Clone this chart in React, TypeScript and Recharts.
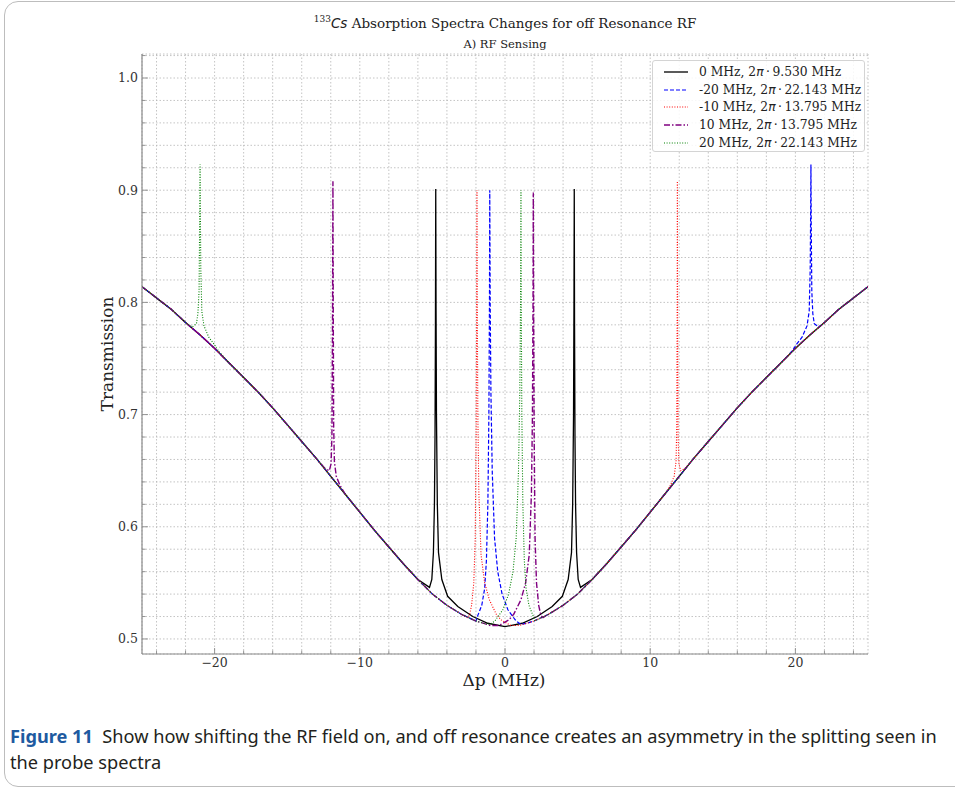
import { LineChart, Line, XAxis, YAxis, CartesianGrid } from "recharts";

// axis ticks (minor every 2 MHz / 0.02, labels only on majors)
const X_TICKS = [-24, -22, -20, -18, -16, -14, -12, -10, -8, -6, -4, -2, 0, 2, 4, 6, 8, 10, 12, 14, 16, 18, 20, 22, 24];
const X_MAJOR = [-20, -10, 0, 10, 20];
const Y_TICKS = [0.5, 0.52, 0.54, 0.56, 0.58, 0.6, 0.62, 0.64, 0.66, 0.68, 0.7, 0.72, 0.74, 0.76, 0.78, 0.8, 0.82, 0.84, 0.86, 0.88, 0.9, 0.92, 0.94, 0.96, 0.98, 1.0, 1.02];
const Y_MAJOR = [0.5, 0.6, 0.7, 0.8, 0.9, 1.0];

// broad Doppler absorption background shared by all curves
const BASE_DELTA = [-25, -24, -23, -22, -21, -20, -19, -18, -17, -16, -15, -14, -13, -12, -11, -10, -9, -8, -7, -6, -5, -4, -3, -2, -1, 0, 1, 2, 3, 4, 5, 6, 7, 8, 9, 10, 11, 12, 13, 14, 15, 16, 17, 18, 19, 20, 21, 22, 23, 24, 25];
const BASE_T = [0.814, 0.804, 0.794, 0.782, 0.771, 0.759, 0.746, 0.733, 0.72, 0.706, 0.691, 0.676, 0.661, 0.645, 0.629, 0.613, 0.597, 0.582, 0.567, 0.553, 0.54, 0.53, 0.522, 0.516, 0.512, 0.511, 0.512, 0.516, 0.522, 0.53, 0.54, 0.553, 0.567, 0.582, 0.597, 0.613, 0.629, 0.645, 0.661, 0.676, 0.691, 0.706, 0.72, 0.733, 0.746, 0.759, 0.771, 0.782, 0.794, 0.804, 0.814];

// transparency windows, [delta, transmission]
const BLACK_PEAKS = [
  [[-5.2, 0.546], [-5.04, 0.553], [-4.93, 0.577], [-4.86, 0.62], [-4.82, 0.68], [-4.79, 0.78], [-4.77, 0.901], [-4.75, 0.8], [-4.72, 0.7], [-4.66, 0.62], [-4.58, 0.577], [-4.35, 0.553], [-3.95, 0.538], [-3.25, 0.529], [-2.22, 0.52], [-1.19, 0.514], [0, 0.511],
   [1.19, 0.514], [2.22, 0.52], [3.25, 0.529], [3.95, 0.538], [4.35, 0.553], [4.58, 0.577], [4.66, 0.62], [4.72, 0.7], [4.75, 0.8], [4.77, 0.901], [4.79, 0.78], [4.82, 0.68], [4.86, 0.62], [4.93, 0.577], [5.04, 0.553], [5.2, 0.546]],
];
const BLUE_PEAKS = [
  [[-2.0, 0.516], [-1.9, 0.52], [-1.6, 0.53], [-1.4, 0.545], [-1.28, 0.57], [-1.18, 0.62], [-1.11, 0.7], [-1.07, 0.8], [-1.05, 0.9], [-1.02, 0.8], [-0.97, 0.72], [-0.88, 0.65], [-0.72, 0.59], [-0.5, 0.56], [-0.2, 0.54], [0.2, 0.526], [0.76, 0.516], [1.1, 0.513], [1.5, 0.514]],
  [[19.8, 0.757], [20.1, 0.763], [20.46, 0.769], [20.8, 0.779], [20.95, 0.792], [21.02, 0.83], [21.05, 0.88], [21.07, 0.923], [21.09, 0.87], [21.13, 0.81], [21.2, 0.79], [21.3, 0.781], [21.6, 0.778]],
];
const RED_PEAKS = [
  [[-2.6, 0.519], [-2.45, 0.521], [-2.3, 0.53], [-2.15, 0.55], [-2.05, 0.59], [-1.99, 0.68], [-1.95, 0.8], [-1.93, 0.9], [-1.91, 0.8], [-1.87, 0.7], [-1.8, 0.63], [-1.65, 0.575], [-1.4, 0.55], [-1.08, 0.535], [-0.6, 0.522], [-0.27, 0.517], [0.4, 0.512], [1.0, 0.512]],
  [[11.0, 0.629], [11.4, 0.637], [11.65, 0.645], [11.78, 0.658], [11.83, 0.69], [11.86, 0.8], [11.87, 0.908], [11.89, 0.78], [11.92, 0.68], [11.98, 0.656], [12.1, 0.65], [12.4, 0.652]],
];
const PURPLE_PEAKS = [
  [[-12.4, 0.652], [-12.1, 0.65], [-11.98, 0.656], [-11.92, 0.68], [-11.88, 0.78], [-11.85, 0.908], [-11.83, 0.8], [-11.8, 0.69], [-11.75, 0.658], [-11.62, 0.645], [-11.37, 0.637], [-11.0, 0.629]],
  [[-1.0, 0.512], [-0.4, 0.512], [0.27, 0.517], [0.6, 0.522], [1.1, 0.535], [1.42, 0.55], [1.67, 0.575], [1.82, 0.63], [1.89, 0.7], [1.93, 0.8], [1.95, 0.898], [1.97, 0.8], [2.01, 0.68], [2.07, 0.59], [2.17, 0.55], [2.32, 0.53], [2.47, 0.521], [2.62, 0.519]],
];
const GREEN_PEAKS = [
  [[-21.55, 0.778], [-21.25, 0.781], [-21.15, 0.79], [-21.07, 0.81], [-21.03, 0.87], [-21.0, 0.923], [-20.98, 0.88], [-20.95, 0.83], [-20.88, 0.792], [-20.73, 0.779], [-20.4, 0.769], [-20.05, 0.763], [-19.75, 0.757]],
  [[-1.5, 0.514], [-1.05, 0.513], [-0.7, 0.516], [-0.15, 0.526], [0.25, 0.54], [0.55, 0.56], [0.77, 0.59], [0.93, 0.65], [1.02, 0.72], [1.07, 0.8], [1.1, 0.9], [1.12, 0.8], [1.16, 0.7], [1.23, 0.62], [1.33, 0.57], [1.45, 0.545], [1.65, 0.53], [1.95, 0.52], [2.05, 0.516]],
];

const SERIES_DETUNING = ["0 MHz, ", "-20 MHz, ", "-10 MHz, ", "10 MHz, ", "20 MHz, "];
const SERIES_RABI = ["9.530", "22.143", "13.795", "13.795", "22.143"];
const SERIES_COLORS = ["#000000", "#0000ff", "#ff0000", "#800080", "#008000"];
const SERIES_DASH = ["", "4 2", "1 1.6", "6 2 1.5 2", "1 1.6"];
const SERIES_WIDTH = [1.3, 1.2, 1.1, 1.4, 1.1];

const SERIF = "'DejaVu Serif', serif";
const FRAME = "#8a8a8a";
const TXT = "#333";

function buildSeries(segments: number[][][]) {
  const pts = BASE_DELTA.map((d, i) => ({ d, t: BASE_T[i] })).filter(
    (p) => !segments.some((s) => p.d >= s[0][0] && p.d <= s[s.length - 1][0])
  );
  segments.forEach((s) => s.forEach(([d, t]) => pts.push({ d, t })));
  return pts.sort((a, b) => a.d - b.d);
}

const seriesData = [BLACK_PEAKS, BLUE_PEAKS, RED_PEAKS, PURPLE_PEAKS, GREEN_PEAKS].map(buildSeries);

const isMajorY = (v: number) => Y_MAJOR.some((m) => Math.abs(m - v) < 1e-9);
const fmtX = (v: number) => (v < 0 ? "\u2212" + Math.abs(v) : String(v));

const BottomTick = ({ x, y, payload }: any) => {
  const major = X_MAJOR.includes(payload.value);
  return (
    <g>
      <line x1={x} x2={x} y1={y} y2={y - (major ? 6 : 3.5)} stroke={FRAME} strokeWidth={0.9} />
      {major && (
        <text x={x} y={y + 13} textAnchor="middle" fontSize={12.5} fill={TXT} fontFamily={SERIF}>
          {fmtX(payload.value)}
        </text>
      )}
    </g>
  );
};

const TopTick = ({ x, y, payload }: any) => {
  const major = X_MAJOR.includes(payload.value);
  return <line x1={x} x2={x} y1={y} y2={y + (major ? 6 : 3.5)} stroke={FRAME} strokeWidth={0.9} />;
};

const LeftTick = ({ x, y, payload }: any) => {
  const major = isMajorY(payload.value);
  return (
    <g>
      <line x1={x} x2={x + (major ? 6 : 3.5)} y1={y} y2={y} stroke={FRAME} strokeWidth={0.9} />
      {major && (
        <text x={x - 4} y={y} dy="0.35em" textAnchor="end" fontSize={12.5} fill={TXT} fontFamily={SERIF}>
          {payload.value.toFixed(1)}
        </text>
      )}
    </g>
  );
};

const RightTick = ({ x, y, payload }: any) => {
  const major = isMajorY(payload.value);
  return <line x1={x} x2={x - (major ? 6 : 3.5)} y1={y} y2={y} stroke={FRAME} strokeWidth={0.9} />;
};

export default function App() {
  return (
    <div style={{ position: "absolute", left: 0, top: 0, width: 955, height: 789, overflow: "hidden", background: "#fff" }}>
      <div style={{ position: "absolute", left: 4, top: 1, width: 1000, height: 784, border: "1px solid #bdbdbd", borderRadius: 14 }} />

      <div style={{ position: "absolute", left: 0, top: 0 }}>
        <LineChart width={955} height={700} margin={{ top: 54, right: 87, bottom: 16, left: 92 }}>
          <CartesianGrid xAxisId="b" yAxisId="l" stroke="#b5b5b5" strokeDasharray="1.5 2" strokeWidth={0.8} />
          <XAxis xAxisId="b" dataKey="d" type="number" domain={[-25, 25]} allowDataOverflow ticks={X_TICKS} interval={0}
            tickSize={0} tickMargin={0} tickLine={false} axisLine={{ stroke: FRAME, strokeWidth: 1.2 }} tick={<BottomTick />} height={30} />
          <XAxis xAxisId="t" orientation="top" type="number" domain={[-25, 25]} allowDataOverflow ticks={X_TICKS} interval={0}
            tickSize={0} tickMargin={0} tickLine={false} axisLine={{ stroke: FRAME, strokeWidth: 1.2 }} tick={<TopTick />} height={0} />
          <YAxis yAxisId="l" type="number" domain={[0.4866, 1.0214]} allowDataOverflow ticks={Y_TICKS} interval={0}
            tickSize={0} tickMargin={0} tickLine={false} axisLine={{ stroke: FRAME, strokeWidth: 1.2 }} tick={<LeftTick />} width={50} />
          <YAxis yAxisId="r" orientation="right" type="number" domain={[0.4866, 1.0214]} allowDataOverflow ticks={Y_TICKS} interval={0}
            tickSize={0} tickMargin={0} tickLine={false} axisLine={{ stroke: FRAME, strokeWidth: 1.2 }} tick={<RightTick />} width={0} />
          {seriesData.map((data, i) => (
            <Line key={i} xAxisId="b" yAxisId="l" data={data} dataKey="t" type="linear"
              stroke={SERIES_COLORS[i]} strokeWidth={SERIES_WIDTH[i]} strokeDasharray={SERIES_DASH[i] || undefined}
              dot={false} activeDot={false} isAnimationActive={false} />
          ))}
        </LineChart>
      </div>

      {/* titles */}
      <div style={{ position: "absolute", left: 255, width: 500, top: 14, textAlign: "center", fontFamily: SERIF, fontSize: 13.5, color: "#222", whiteSpace: "nowrap" }}>
        <sup style={{ fontSize: 9 }}>133</sup>
        <span style={{ fontFamily: "'DejaVu Sans', sans-serif", fontStyle: "italic" }}>Cs</span> Absorption Spectra Changes for off Resonance RF
      </div>
      <div style={{ position: "absolute", left: 355, width: 300, top: 37, textAlign: "center", fontFamily: SERIF, fontSize: 11.5, color: "#222" }}>
        A) RF Sensing
      </div>

      {/* axis labels */}
      <div style={{ position: "absolute", left: 404, width: 200, top: 670, textAlign: "center", fontFamily: SERIF, fontSize: 17, color: "#222" }}>
        Δp (MHz)
      </div>
      <div style={{ position: "absolute", left: 107, top: 354, transform: "translate(-50%, -50%) rotate(-90deg)", fontFamily: SERIF, fontSize: 17, color: "#222", whiteSpace: "nowrap" }}>
        Transmission
      </div>

      {/* legend */}
      <div style={{ position: "absolute", left: 652, top: 60, width: 213, height: 92, border: "1px solid #d4d4d4", borderRadius: 3, background: "rgba(255,255,255,0.85)", boxSizing: "border-box", paddingTop: 2 }}>
        {SERIES_DETUNING.map((lab, i) => (
          <div key={i} style={{ height: 17.7, display: "flex", alignItems: "center", fontFamily: SERIF, fontSize: 12.3, color: "#222", whiteSpace: "nowrap" }}>
            <svg width={46} height={10} style={{ flex: "none" }}>
              <line x1={11} x2={35} y1={5} y2={5} stroke={SERIES_COLORS[i]} strokeWidth={SERIES_WIDTH[i]} strokeDasharray={SERIES_DASH[i] || undefined} />
            </svg>
            <span>
              {lab}2<span style={{ fontFamily: "'DejaVu Sans', sans-serif", fontStyle: "italic" }}>π</span>
              {"\u2009·\u2009"}{SERIES_RABI[i]} MHz
            </span>
          </div>
        ))}
      </div>

      {/* caption */}
      <div style={{ position: "absolute", left: 10, top: 723, width: 945, fontFamily: "'Noto Sans', sans-serif", fontSize: 18.2, lineHeight: "26px", color: "#231f20", whiteSpace: "nowrap" }}>
        <span style={{ fontWeight: 700, color: "#1e5aa0" }}>Figure 11</span>&nbsp;&nbsp;Show how shifting the RF field on, and off resonance creates an asymmetry in the splitting seen in
        <br />
        the probe spectra
      </div>
    </div>
  );
}
